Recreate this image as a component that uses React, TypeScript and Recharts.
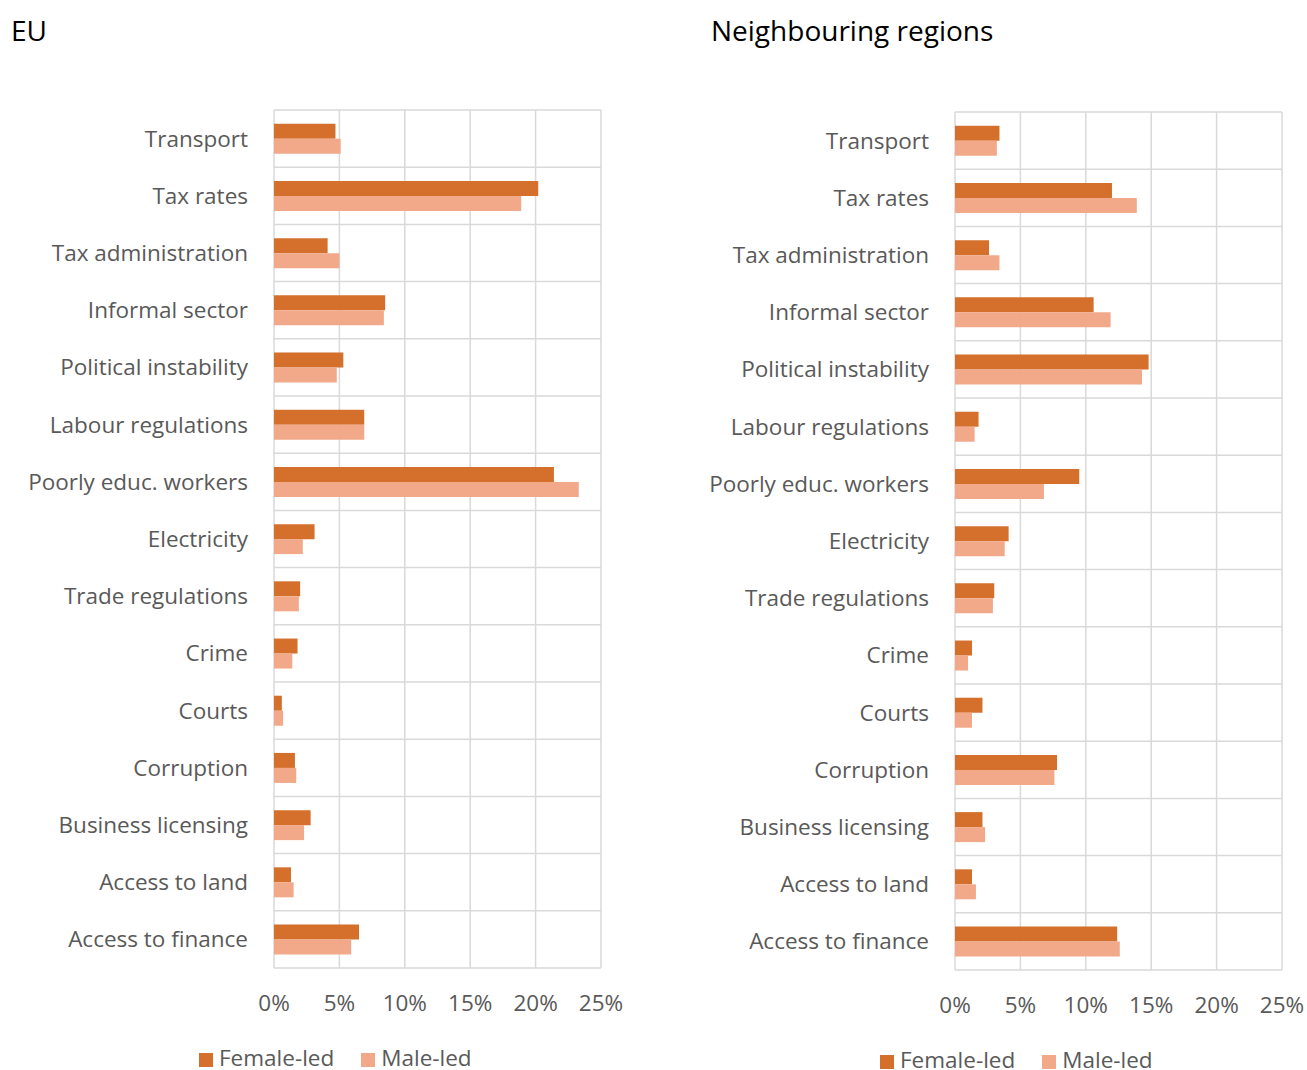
import React from 'react';
import { BarChart, Bar, XAxis, YAxis, CartesianGrid, Legend } from 'recharts';

const categories = [
  'Transport',
  'Tax rates',
  'Tax administration',
  'Informal sector',
  'Political instability',
  'Labour regulations',
  'Poorly educ. workers',
  'Electricity',
  'Trade regulations',
  'Crime',
  'Courts',
  'Corruption',
  'Business licensing',
  'Access to land',
  'Access to finance',
];

const euFemale = [4.7, 20.2, 4.1, 8.5, 5.3, 6.9, 21.4, 3.1, 2.0, 1.8, 0.6, 1.6, 2.8, 1.3, 6.5];
const euMale = [5.1, 18.9, 5.0, 8.4, 4.8, 6.9, 23.3, 2.2, 1.9, 1.4, 0.7, 1.7, 2.3, 1.5, 5.9];

const nbFemale = [3.4, 12.0, 2.6, 10.6, 14.8, 1.8, 9.5, 4.1, 3.0, 1.3, 2.1, 7.8, 2.1, 1.3, 12.4];
const nbMale = [3.2, 13.9, 3.4, 11.9, 14.3, 1.5, 6.8, 3.8, 2.9, 1.0, 1.3, 7.6, 2.3, 1.6, 12.6];

const xTicks = [0, 5, 10, 15, 20, 25];

const FEMALE = '#D46F2C';
const MALE = '#F2A98A';
const TEXT = '#595959';
const FONT = '"Open Sans", "Noto Sans", sans-serif';
const FS = 22.5;

const build = (female: number[], male: number[]) =>
  categories.map((name, i) => ({ name, female: female[i], male: male[i] }));

const euData = build(euFemale, euMale);
const nbData = build(nbFemale, nbMale);

// horizontal grid lines sit between the category bands, not at their centres
const bandLines = ({ offset }: any) => {
  const n = categories.length;
  const out: number[] = [];
  for (let i = 0; i <= n; i++) out.push(offset.top + (offset.height * i) / n);
  return out;
};

type PanelProps = {
  data: { name: string; female: number; male: number }[];
  width: number;
  height: number;
  marginRight: number;
  legendLeft: number;
};

const Panel: React.FC<PanelProps> = ({ data, width, height, marginRight, legendLeft }) => (
  <BarChart
    layout="vertical"
    width={width}
    height={height}
    data={data}
    margin={{ top: 110, right: marginRight, left: 0, bottom: 48 }}
    barCategoryGap="24%"
    barGap={0}
    style={{ fontFamily: FONT }}
  >
    <CartesianGrid stroke="#D9D9D9" strokeWidth={1.5} horizontalCoordinatesGenerator={bandLines} />
    <XAxis
      type="number"
      domain={[0, 25]}
      ticks={xTicks}
      tickFormatter={(v: number) => `${v}%`}
      axisLine={false}
      tickLine={false}
      tickSize={0}
      tickMargin={27}
      tick={{ fill: TEXT, fontSize: FS }}
      interval={0}
    />
    <YAxis
      type="category"
      dataKey="name"
      width={274}
      axisLine={false}
      tickLine={false}
      tickSize={0}
      tickMargin={26}
      tick={{ fill: TEXT, fontSize: FS }}
      interval={0}
    />
    <Legend
      verticalAlign="bottom"
      iconType="square"
      iconSize={14}
      wrapperStyle={{
        left: legendLeft,
        width: 'auto',
        bottom: 0,
        fontSize: FS,
        lineHeight: '24px',
        color: TEXT,
      }}
      formatter={(value: string) => (
        <span style={{ color: TEXT, marginLeft: 2, marginRight: 17 }}>{value}</span>
      )}
    />
    <Bar dataKey="female" name="Female-led" fill={FEMALE} isAnimationActive={false} />
    <Bar dataKey="male" name="Male-led" fill={MALE} isAnimationActive={false} />
  </BarChart>
);

export default function App() {
  return (
    <div
      style={{
        position: 'fixed',
        left: 0,
        top: 0,
        width: 1307,
        height: 1070,
        overflow: 'hidden',
        background: '#fff',
        fontFamily: FONT,
      }}
    >
      <div style={{ position: 'absolute', left: 11, top: 11, fontSize: 28, color: '#000' }}>EU</div>
      <div style={{ position: 'absolute', left: 711, top: 11, fontSize: 28, color: '#000' }}>
        Neighbouring regions
      </div>
      <div style={{ position: 'absolute', left: 0, top: 0 }}>
        <Panel data={euData} width={650} height={1070} marginRight={49} legendLeft={199} />
      </div>
      <div style={{ position: 'absolute', left: 681, top: 2 }}>
        <Panel data={nbData} width={626} height={1070} marginRight={25} legendLeft={199} />
      </div>
    </div>
  );
}
